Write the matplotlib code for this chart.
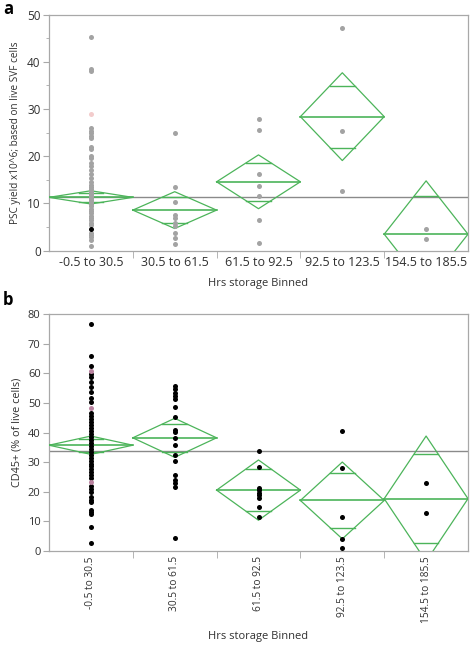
import numpy as np
import matplotlib
matplotlib.use("Agg")
import matplotlib.pyplot as plt

plt.rcParams['font.family'] = ['Open Sans', 'DejaVu Sans']

categories = ["-0.5 to 30.5", "30.5 to 61.5", "61.5 to 92.5", "92.5 to 123.5", "154.5 to 185.5"]

# Panel a: PSC yield
psc_g1 = [45.2, 38.6, 38.1, 25.9, 25.4, 24.9, 24.4, 23.8, 22.0, 21.5, 20.1, 19.6, 18.5, 18.0,
          17.0, 16.2, 15.3, 14.6, 14.0, 13.5, 13.0, 12.5, 12.0, 11.6, 11.2, 10.8, 10.3, 9.8, 9.4,
          8.9, 8.4, 7.9, 7.4, 6.9, 6.4, 5.9, 5.4, 3.8, 3.3, 2.8, 2.2, 1.0]
psc_g1_pink = [28.9]
psc_g1_black = [4.5]
psc_g2 = [25.0, 13.4, 10.3, 7.6, 7.0, 5.9, 5.2, 3.7, 2.6, 1.4]
psc_g3 = [27.8, 25.6, 16.2, 13.8, 11.5, 6.4, 1.6]
psc_g4 = [47.2, 25.4, 12.6]
psc_g5 = [4.7, 2.5]
psc_mean = [11.3, 8.6, 14.6, 28.4, 3.5]
psc_lower = [9.9, 4.7, 8.9, 19.1, -7.8]
psc_upper = [12.7, 12.5, 20.3, 37.7, 14.8]
psc_grand = 11.4

# Panel b: CD45+
cd_g1 = [76.7, 66.0, 62.5, 59.9, 58.7, 57.2, 55.5, 53.8, 51.6, 50.4, 46.5, 45.5, 44.5, 43.5,
         42.5, 41.5, 40.5, 39.5, 38.5, 37.5, 36.5, 35.5, 34.5, 33.5, 32.5, 31.5, 30.5, 29.5,
         28.5, 27.5, 26.5, 25.5, 24.5, 22.0, 21.0, 20.0, 18.3, 17.2, 16.6, 13.7, 13.0, 12.3,
         8.1, 2.7]
cd_g1_pink = [60.8, 48.2, 23.3]
cd_g2 = [55.7, 54.7, 53.5, 52.4, 51.2, 48.5, 45.3, 40.8, 40.3, 38.2, 35.8, 32.5, 30.4, 25.5,
         23.9, 23.0, 21.7, 4.3]
cd_g3 = [33.7, 28.4, 21.1, 20.4, 19.6, 18.8, 18.0, 14.9, 11.3]
cd_g4 = [40.6, 27.9, 11.3, 4.1, 1.0]
cd_g5 = [23.0, 12.7]
cd_mean = [35.7, 38.2, 20.5, 17.0, 17.6]
cd_lower = [32.6, 31.6, 10.3, 4.0, -3.6]
cd_upper = [38.8, 44.8, 30.7, 30.0, 38.8]
cd_grand = 33.8

GREEN = "#4cb45a"
SPINE = "#a8a8a8"
TXT = "#303030"

fig = plt.figure(figsize=(4.72, 6.48), dpi=100)
ax_a = fig.add_axes([49/472, 1-250.7/648, 419/472, 236/648])
ax_b = fig.add_axes([49/472, 1-550.7/648, 419/472, 236.4/648])


def draw(ax, groups, means, lowers, uppers, grand, ymax, minor_step, ylab_size, xlab_size):
    ax.set_xlim(-0.5, 4.5)
    ax.set_ylim(0, ymax)
    ax.axhline(grand, color="#8a8a8a", lw=1.0, zorder=2)
    hw = 0.5 * (1 - 1 / np.sqrt(2))
    for i, (m, lo, hi) in enumerate(zip(means, lowers, uppers)):
        xs = [i - 0.5, i, i + 0.5, i, i - 0.5]
        ys = [m, hi, m, lo, m]
        ax.plot(xs, ys, color=GREEN, lw=0.9, zorder=3)
        ax.plot([i - 0.5, i + 0.5], [m, m], color=GREEN, lw=1.2, zorder=3)
        for y in (m + (hi - m) / np.sqrt(2), m - (m - lo) / np.sqrt(2)):
            ax.plot([i - hw, i + hw], [y, y], color=GREEN, lw=1.0, zorder=3)
    for (i, vals, col) in groups:
        ax.scatter([i] * len(vals), vals, s=13, color=col, zorder=4, linewidths=0)
    for sp in ax.spines.values():
        sp.set_color(SPINE)
        sp.set_linewidth(0.9)
    ax.set_yticks(np.arange(0, ymax + 1, 10))
    ax.set_yticks(np.arange(0, ymax + 1, minor_step), minor=True)
    ax.tick_params(axis='y', which='major', length=4, color=SPINE, labelsize=ylab_size,
                   labelcolor=TXT, pad=2)
    ax.tick_params(axis='y', which='minor', length=2, color=SPINE)
    ax.set_xticks(np.arange(5))
    ax.set_xticks(np.arange(0.5, 4.5, 1), minor=True)
    ax.tick_params(axis='x', which='major', length=0, labelsize=xlab_size, labelcolor=TXT, pad=4)
    ax.tick_params(axis='x', which='minor', length=5, color=SPINE)


grey = "#a3a3a3"
draw(ax_a,
     [(0, psc_g1, grey), (0, psc_g1_pink, "#f3cccc"), (0, psc_g1_black, "black"),
      (1, psc_g2, grey), (2, psc_g3, grey), (3, psc_g4, grey), (4, psc_g5, grey)],
     psc_mean, psc_lower, psc_upper, psc_grand, 50, 5, 8.5, 9)
ax_a.set_xticklabels(categories)
ax_a.set_ylabel("PSC yield x10^6; based on live SVF cells", fontsize=7.2, color=TXT, labelpad=4)

draw(ax_b,
     [(0, cd_g1, "black"), (0, cd_g1_pink, "#b9829f"),
      (1, cd_g2, "black"), (2, cd_g3, "black"), (3, cd_g4, "black"), (4, cd_g5, "black")],
     cd_mean, cd_lower, cd_upper, cd_grand, 80, 10, 8, 7.3)
ax_b.set_xticklabels(categories, rotation=90)
ax_b.set_ylabel("CD45+ (% of live cells)", fontsize=7.8, color=TXT, labelpad=4)

fig.text(258/472, 1-284/648, "Hrs storage Binned", fontsize=8, color=TXT, ha='center', va='center')
fig.text(258/472, 1-636/648, "Hrs storage Binned", fontsize=8, color=TXT, ha='center', va='center')

fig.text(3/472, 1-9/648, "a", fontsize=12, fontweight='bold', va='center', ha='left')
fig.text(3/472, 1-300/648, "b", fontsize=12, fontweight='bold', va='center', ha='left')

fig.savefig("out.png", dpi=100)
